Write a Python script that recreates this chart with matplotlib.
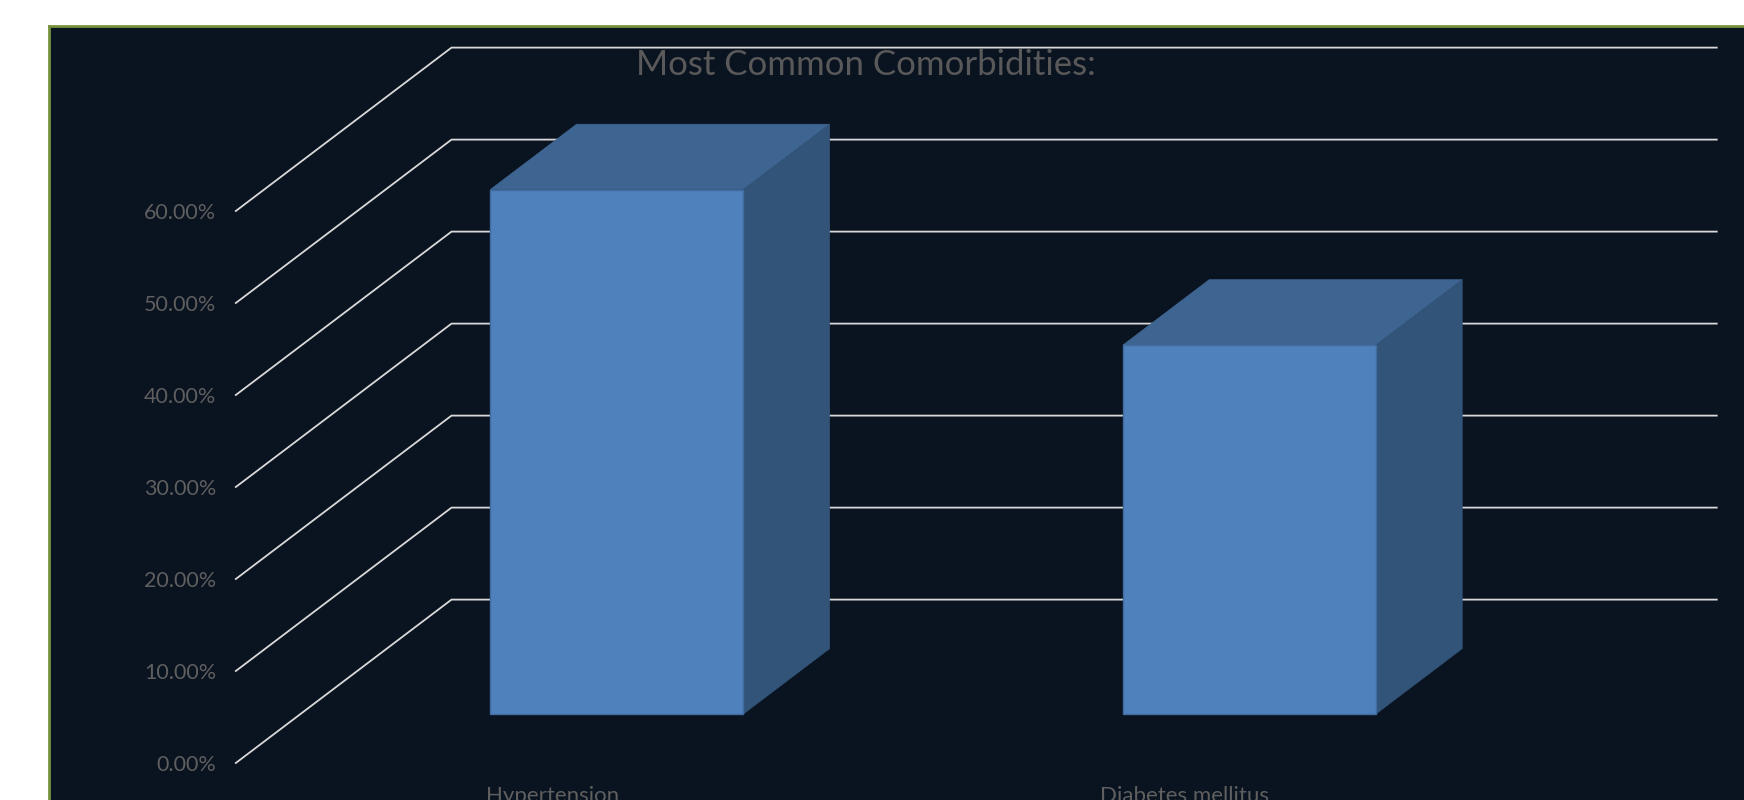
import matplotlib

matplotlib.use('Agg')
import matplotlib.pyplot as plt
from matplotlib.patches import Polygon

categories = ["Hypertension", "Diabetes mellitus"]
values = [57.0, 40.1]
yticks = [0, 10, 20, 30, 40, 50, 60]

BG = "#0a1320"
FRONT = "#4f81bd"
TOP = "#3e6591"
SIDE = "#325479"
GRID = "#d9d9d9"
TEXT = "#5f5f5f"

# oblique 3D look: depth offset in data units (x in categories, y in percent)
DDX = 0.341
DDY = 17.76
T0, T1 = 0.3, 0.7
BAR_W = 0.4

W, H = 1744, 800
fig = plt.figure(figsize=(W / 100, H / 100), dpi=100)
fig.patch.set_facecolor("white")

# dark chart area with olive border
bg = fig.add_axes([49 / W, 0, 1 - 49 / W, 1 - 26 / H])
bg.set_facecolor(BG)
bg.set_xticks([])
bg.set_yticks([])
for s in bg.spines.values():
    s.set_color("#77933c")
    s.set_linewidth(2)
bg.spines["bottom"].set_visible(False)
bg.spines["right"].set_visible(False)

# plot axes: front floor edge spans x 0..2, front values 0..60
ax = fig.add_axes([235.8 / W, (H - 763) / H, (1501 - 235.8) / W, (763 - 211) / H])
ax.set_xlim(0, len(categories))
ax.set_ylim(0, 60)
ax.patch.set_visible(False)
for s in ax.spines.values():
    s.set_visible(False)

n = len(categories)
for v in yticks:
    ax.plot([0, DDX, n + DDX], [v, v + DDY, v + DDY], color=GRID, lw=1.3,
            clip_on=False, zorder=1)


def shift(x, y, t):
    return (x + t * DDX, y + t * DDY)


for i, v in enumerate(values):
    xl = i + 0.5 - BAR_W / 2
    xr = i + 0.5 + BAR_W / 2
    fbl = shift(xl, 0, T0)
    fbr = shift(xr, 0, T0)
    ftl = shift(xl, v, T0)
    ftr = shift(xr, v, T0)
    btl = shift(xl, v, T1)
    btr = shift(xr, v, T1)
    bbr = shift(xr, 0, T1)
    ax.add_patch(Polygon([ftl, ftr, btr, btl], closed=True, fc=TOP, ec=TOP,
                         lw=0.5, clip_on=False, zorder=3))
    ax.add_patch(Polygon([fbr, bbr, btr, ftr], closed=True, fc=SIDE, ec=SIDE,
                         lw=0.5, clip_on=False, zorder=3))
    ax.add_patch(Polygon([fbl, fbr, ftr, ftl], closed=True, fc=FRONT, ec="#416c9f",
                         lw=1, clip_on=False, zorder=4))
    # category label centred on the front floor edge (cut by the chart edge, as in the source)
    ax.text(i + 0.5, -2.5, categories[i], ha="center", va="top",
            color=TEXT, fontsize=16, family="Lato", clip_on=False)

ax.set_xticks([])
ax.set_yticks(yticks)
ax.set_yticklabels([f"{t:.2f}%" for t in yticks], color=TEXT, fontsize=15.5,
                   family="Lato")
ax.tick_params(axis="y", length=0, pad=14)

fig.text(866 / W, 1 - 49 / H, "Most Common Comorbidities:", ha="center", va="top",
         color="#595959", fontsize=25, family="Lato")

fig.savefig("out.png", dpi=100, facecolor=fig.get_facecolor())
